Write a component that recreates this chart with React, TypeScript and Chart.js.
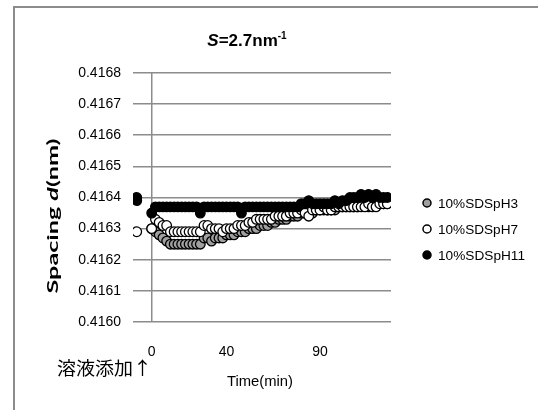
import React, { useEffect, useRef } from 'react';
import { Chart, registerables } from 'chart.js';

Chart.register(...registerables);

// ---- data ----
const times = [-8, -8,
  0, 2, 4, 6, 8, 10, 12, 14, 16, 18, 20, 22, 24, 26, 28, 30, 32, 34, 36, 38,
  40, 42, 44, 46, 48, 50, 52, 54, 56, 58, 60, 62, 64, 66, 68, 70, 72, 74, 76, 78,
  80, 82, 84, 86, 88, 90, 92, 94, 96, 98, 100, 102, 104, 106, 108, 110, 112, 114, 116, 118,
  120, 122, 124, 126];

const pH3: (number | null)[] = [null, null,
  0.41630, 0.41629, 0.41628, 0.41627, 0.41626, 0.41625, 0.41625, 0.41625, 0.41625, 0.41625,
  0.41625, 0.41625, 0.41625, 0.41625, 0.41627, 0.41627, 0.41626, 0.41627, 0.41627, 0.41627,
  0.41628, 0.41628, 0.41628, 0.41629, 0.41629, 0.41629, 0.41630, 0.41630, 0.41630, 0.41631,
  0.41631, 0.41631, 0.41632, 0.41632, 0.41633, 0.41633, 0.41633, 0.41634, 0.41634, 0.41634,
  0.41635, 0.41635, 0.41635, 0.41635, 0.41636, 0.41636, 0.41636, 0.41636, 0.41636, 0.41636,
  0.41637, 0.41637, 0.41637, 0.41637, 0.41637, 0.41637, 0.41638, 0.41638, 0.41637, 0.41638,
  0.41638, 0.41638, 0.41638, 0.41638];

const pH7: (number | null)[] = [0.41629, null,
  0.41630, 0.41633, 0.41632, 0.41631, 0.41631, 0.41629, 0.41629, 0.41629, 0.41629, 0.41629,
  0.41629, 0.41629, 0.41629, 0.41629, 0.41631, 0.41631, 0.41630, 0.41630, 0.41630, 0.41629,
  0.41630, 0.41630, 0.41630, 0.41631, 0.41631, 0.41631, 0.41632, 0.41632, 0.41633, 0.41633,
  0.41633, 0.41633, 0.41633, 0.41634, 0.41634, 0.41634, 0.41634, 0.41635, 0.41635, 0.41635,
  0.41636, 0.41635, 0.41634, 0.41636, 0.41636, 0.41636, 0.41637, 0.41636, 0.41636, 0.41637,
  0.41637, 0.41637, 0.41637, 0.41637, 0.41637, 0.41637, 0.41637, 0.41637, 0.41638, 0.41637,
  0.41637, 0.41638, 0.41638, 0.41638];

const pH11: (number | null)[] = [0.41640, 0.41639,
  0.41635, 0.41637, 0.41637, 0.41637, 0.41637, 0.41637, 0.41637, 0.41637, 0.41637, 0.41637,
  0.41637, 0.41637, 0.41637, 0.41635, 0.41637, 0.41637, 0.41637, 0.41637, 0.41637, 0.41637,
  0.41637, 0.41637, 0.41637, 0.41637, 0.41635, 0.41637, 0.41637, 0.41637, 0.41637, 0.41637,
  0.41637, 0.41637, 0.41637, 0.41637, 0.41637, 0.41637, 0.41637, 0.41637, 0.41637, 0.41637,
  0.41638, 0.41638, 0.41639, 0.41638, 0.41638, 0.41638, 0.41638, 0.41638, 0.41638, 0.41639,
  0.41638, 0.41639, 0.41639, 0.41640, 0.41640, 0.41640, 0.41641, 0.41640, 0.41641, 0.41640,
  0.41641, 0.41640, 0.41640, 0.41640];

const seriesLabels = ['10%SDSpH3', '10%SDSpH7', '10%SDSpH11'];
const seriesFills = ['#a0a0a0', '#ffffff', '#000000'];
const yTickValues = [0.416, 0.4161, 0.4162, 0.4163, 0.4164, 0.4165, 0.4166, 0.4167, 0.4168];
const xTickValues = [0, 40, 90];
const xTitle = 'Time(min)';
const noteText = '溶液添加↑';

const toPoints = (arr: (number | null)[]) =>
  times
    .map((t, i) => ({ x: t, y: arr[i] }))
    .filter((p) => p.y !== null && p.y !== undefined) as { x: number; y: number }[];

function fitText(ctx: CanvasRenderingContext2D, text: string, x: number, y: number, w: number) {
  const m = ctx.measureText(text).width;
  ctx.save();
  ctx.translate(x, y);
  ctx.scale(w / m, 1);
  ctx.fillText(text, 0, 0);
  ctx.restore();
}

const decorPlugin = {
  id: 'decor',
  beforeDraw(chart: any) {
    const ctx: CanvasRenderingContext2D = chart.ctx;
    ctx.save();
    ctx.fillStyle = '#ffffff';
    ctx.fillRect(0, 0, chart.width, chart.height);
    ctx.strokeStyle = '#8c8c8c';
    ctx.lineWidth = 2;
    ctx.beginPath();
    ctx.moveTo(14, chart.height);
    ctx.lineTo(14, 7);
    ctx.lineTo(chart.width, 7);
    ctx.stroke();
    ctx.restore();
  },
  afterDraw(chart: any) {
    const ctx: CanvasRenderingContext2D = chart.ctx;
    ctx.save();
    ctx.fillStyle = '#000';
    ctx.textBaseline = 'alphabetic';
    ctx.textAlign = 'left';

    // Title: S=2.7nm-1
    const f1 = 'italic bold 17px "Liberation Sans", Arial, sans-serif';
    const f2 = 'bold 17px "Liberation Sans", Arial, sans-serif';
    const f3 = 'bold 10px "Liberation Sans", Arial, sans-serif';
    ctx.font = f1; const w1 = ctx.measureText('S').width;
    ctx.font = f2; const w2 = ctx.measureText('=2.7nm').width;
    ctx.font = f3; const w3 = ctx.measureText('-1').width;
    let tx = 247 - (w1 + w2 + w3) / 2;
    const ty = 46;
    ctx.font = f1; ctx.fillText('S', tx, ty); tx += w1;
    ctx.font = f2; ctx.fillText('=2.7nm', tx, ty); tx += w2;
    ctx.font = f3; ctx.fillText('-1', tx, ty - 7);

    // Y title: Spacing d(nm)
    ctx.save();
    ctx.translate(58, 216);
    ctx.rotate(-Math.PI / 2);
    const g1 = 'bold 16px Lato, "Open Sans", sans-serif';
    const g2 = 'italic bold 16px Lato, "Open Sans", sans-serif';
    ctx.font = g1; const a = ctx.measureText('Spacing ').width; const c = ctx.measureText('(nm)').width;
    ctx.font = g2; const b = ctx.measureText('d').width;
    const total = a + b + c;
    const sc = 155 / total;
    ctx.scale(sc, 1);
    let px = -total / 2;
    ctx.font = g1; ctx.fillText('Spacing ', px, 0); px += a;
    ctx.font = g2; ctx.fillText('d', px, 0); px += b;
    ctx.font = g1; ctx.fillText('(nm)', px, 0);
    ctx.restore();

    // X title
    ctx.font = '14px "Liberation Sans", Arial, sans-serif';
    ctx.textBaseline = 'middle';
    fitText(ctx, xTitle, 227, 382, 66);

    // Note
    ctx.font = '18px "Noto Sans CJK JP", sans-serif';
    fitText(ctx, noteText, 57, 368, 95);

    // Legend
    const ly = [203, 229, 255];
    const lw = [80, 80, 87];
    ctx.font = '13.5px "Liberation Sans", Arial, sans-serif';
    seriesLabels.forEach((lab, i) => {
      ctx.beginPath();
      ctx.arc(427, ly[i], 4, 0, Math.PI * 2);
      ctx.fillStyle = seriesFills[i];
      ctx.fill();
      ctx.lineWidth = 1.5;
      ctx.strokeStyle = '#000';
      ctx.stroke();
      ctx.fillStyle = '#000';
      fitText(ctx, lab, 438, ly[i] + 1, lw[i]);
    });
    ctx.restore();
  },
};

export default function App() {
  const ref = useRef<HTMLCanvasElement | null>(null);
  useEffect(() => {
    if (!ref.current) return;
    const arrs = [pH3, pH7, pH11];
    const chart = new Chart(ref.current, {
      type: 'scatter',
      data: {
        datasets: arrs.map((arr, i) => ({
          label: seriesLabels[i],
          data: toPoints(arr),
          backgroundColor: seriesFills[i],
          borderColor: '#000',
          pointRadius: 4.8,
          pointBorderWidth: 1.3,
          pointHoverRadius: 4.8,
          showLine: false,
          order: 3 - i,
        })),
      },
      options: {
        animation: false,
        responsive: false,
        devicePixelRatio: 1,
        layout: { padding: { top: 73, right: 147, left: 0, bottom: 0 } },
        plugins: { legend: { display: false }, tooltip: { enabled: false }, title: { display: false } },
        scales: {
          x: {
            type: 'linear',
            min: -10,
            max: 128,
            afterFit: (s: any) => { s.height = 88; },
            afterBuildTicks: (s: any) => { s.ticks = xTickValues.map((v) => ({ value: v })); },
            border: { display: false },
            grid: {
              drawTicks: false,
              tickLength: 0,
              lineWidth: 1.5,
              color: (c: any) => (c.tick && c.tick.value === 0 ? '#8c8c8c' : 'rgba(0,0,0,0)'),
            },
            ticks: {
              autoSkip: false,
              maxRotation: 0,
              padding: 22,
              color: '#000',
              font: { family: '"Liberation Sans", Arial, sans-serif', size: 14 },
              callback: (v: any) => String(v),
            },
          },
          y: {
            min: 0.416,
            max: 0.4168,
            afterFit: (s: any) => { s.width = 133; },
            afterBuildTicks: (s: any) => { s.ticks = yTickValues.map((v) => ({ value: v })); },
            border: { display: false },
            grid: { drawTicks: false, tickLength: 0, lineWidth: 1.5, color: '#8c8c8c' },
            ticks: {
              padding: 12,
              color: '#000',
              font: { family: '"Liberation Sans", Arial, sans-serif', size: 14 },
              callback: (v: any) => Number(v).toFixed(4),
            },
          },
        },
      },
      plugins: [decorPlugin],
    } as any);
    return () => chart.destroy();
  }, []);
  return (
    <div style={{ position: 'fixed', left: 0, top: 0, width: 538, height: 410, background: '#fff' }}>
      <canvas ref={ref} width={538} height={410} style={{ width: 538, height: 410, display: 'block' }} />
    </div>
  );
}
